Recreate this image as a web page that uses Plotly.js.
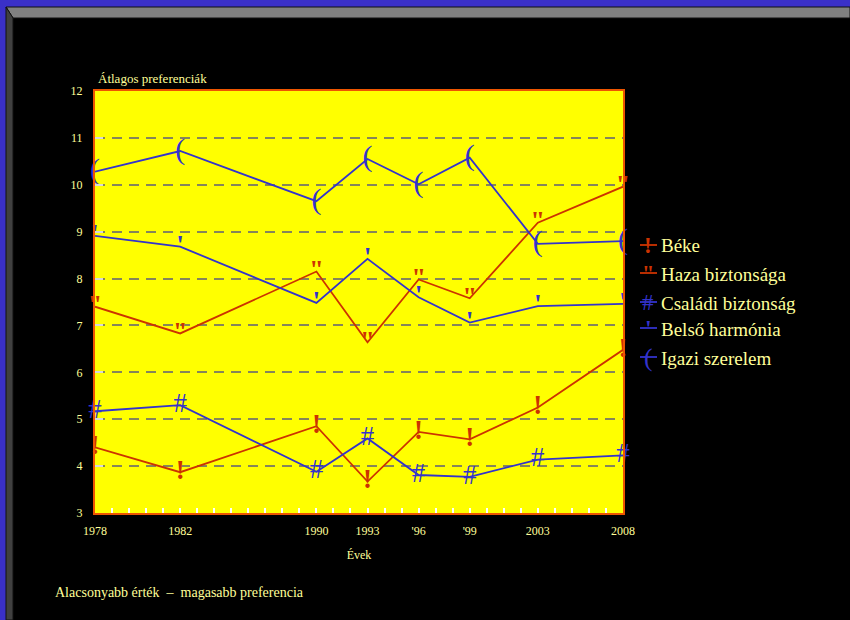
<!DOCTYPE html>
<html><head><meta charset="utf-8">
<script src="https://cdn.plot.ly/plotly-3.0.1.min.js"></script>
<style>html,body{margin:0;padding:0;background:#000;}#chart{width:850px;height:620px;}</style>
</head><body><div id="chart"></div>
<script>
// ---- data ----
const yearLabels = ['1978', '1982', '1990', '1993', "'96", "'99", '2003', '2008'];
const yearPositions = [0, 5, 13, 16, 19, 22, 26, 31];
const seriesNames = ['Béke', 'Haza biztonsága', 'Családi biztonság', 'Belső harmónia', 'Igazi szerelem'];
const beke = [4.40, 3.87, 4.85, 3.67, 4.73, 4.57, 5.25, 6.48];
const hazaBiztonsaga = [7.40, 6.83, 8.15, 6.64, 7.98, 7.58, 9.19, 9.96];
const csaladiBiztonsag = [5.17, 5.30, 3.88, 4.59, 3.81, 3.77, 4.14, 4.23];
const belsoHarmonia = [8.91, 8.68, 7.48, 8.42, 7.60, 7.06, 7.41, 7.46];
const igaziSzerelem = [10.28, 10.72, 9.65, 10.55, 10.01, 10.58, 8.74, 8.80];

// ---- styles ----
const seriesValues = [beke, hazaBiztonsaga, csaladiBiztonsag, belsoHarmonia, igaziSzerelem];
const glyphs = ['!', '"', '#', "'", '('];
const glyphSizes = [27, 26, 27, 28, 30];
const glyphWeights = ['bold', 'bold', 'normal', 'bold', 'normal'];
const colors = ['#CC3300', '#CC3300', '#3333CC', '#3333CC', '#3333CC'];
const SERIF = '"Liberation Serif", "Times New Roman", serif';
const TXT = '#FFFF99';

const W = 850, H = 620, L = 95, R = 623, T = 91, B = 513;
const px2x = p => (p - L) / (R - L);
const px2y = p => (B - p) / (B - T);

const traces = seriesValues.map((vals, i) => ({
  type: 'scatter',
  mode: 'lines+text',
  name: seriesNames[i],
  x: yearPositions,
  y: vals,
  text: vals.map(() => glyphs[i]),
  textposition: 'middle center',
  textfont: {family: SERIF, size: glyphSizes[i], color: colors[i], weight: glyphWeights[i]},
  line: {color: colors[i], width: 1.8},
  cliponaxis: false,
  showlegend: false,
  hoverinfo: 'x+y+name'
}));

// ---- frame shapes (slide border) ----
const shapes = [
  {type: 'path', xref: 'paper', yref: 'paper', layer: 'below', line: {width: 0}, fillcolor: '#3A30C8',
   path: `M ${px2x(0)} ${px2y(0)} L ${px2x(W)} ${px2y(0)} L ${px2x(W)} ${px2y(7)} L ${px2x(6)} ${px2y(7)} L ${px2x(6)} ${px2y(H)} L ${px2x(0)} ${px2y(H)} Z`},
  {type: 'path', xref: 'paper', yref: 'paper', layer: 'below', line: {color: '#111', width: 1}, fillcolor: '#808080',
   path: `M ${px2x(6)} ${px2y(7)} L ${px2x(W)} ${px2y(7)} L ${px2x(W)} ${px2y(18)} L ${px2x(13)} ${px2y(18)} Z`},
  {type: 'path', xref: 'paper', yref: 'paper', layer: 'below', line: {color: '#111', width: 1}, fillcolor: '#404040',
   path: `M ${px2x(6)} ${px2y(7)} L ${px2x(13)} ${px2y(18)} L ${px2x(13)} ${px2y(H)} L ${px2x(6)} ${px2y(H)} Z`}
];

// ---- legend (hand-built) ----
const legendRows = [245, 273, 302, 328, 357];
const annotations = [];
seriesNames.forEach((n, i) => {
  const py = legendRows[i];
  shapes.push({type: 'line', xref: 'paper', yref: 'paper', x0: px2x(640), x1: px2x(657), y0: px2y(py), y1: px2y(py),
    line: {color: colors[i], width: 1.8}});
  annotations.push({xref: 'paper', yref: 'paper', x: px2x(648), y: px2y(py), text: glyphs[i], showarrow: false,
    xanchor: 'center', yanchor: 'middle', font: {family: SERIF, size: glyphSizes[i] * 0.85, color: colors[i], weight: glyphWeights[i]}});
  annotations.push({xref: 'paper', yref: 'paper', x: px2x(659), y: px2y(py + 1), text: n, showarrow: false,
    xanchor: 'left', yanchor: 'middle', font: {family: SERIF, size: 19, color: TXT}});
});
annotations.push({xref: 'paper', yref: 'paper', x: px2x(96), y: px2y(78), text: 'Átlagos preferenciák', showarrow: false,
  xanchor: 'left', yanchor: 'middle', font: {family: SERIF, size: 13, color: TXT}});
annotations.push({xref: 'paper', yref: 'paper', x: px2x(53), y: px2y(592), text: 'Alacsonyabb érték  –  magasabb preferencia', showarrow: false,
  xanchor: 'left', yanchor: 'middle', font: {family: SERIF, size: 14, color: TXT}});

const BORDER = '#EE5500';
const layout = {
  width: W, height: H,
  margin: {l: L, r: W - R, t: T, b: H - B, pad: 0},
  paper_bgcolor: '#000000',
  plot_bgcolor: '#FFFF00',
  showlegend: false,
  font: {family: SERIF, color: TXT},
  xaxis: {
    range: [0, 31], tickmode: 'array', tickvals: yearPositions, ticktext: yearLabels,
    ticks: 'inside', ticklen: 5, tickwidth: 2, tickcolor: '#FFFFFF',
    minor: {ticks: 'inside', dtick: 1, tick0: 0, ticklen: 5, tickwidth: 2, tickcolor: '#FFFFFF', showgrid: false},
    showgrid: false, zeroline: false,
    showline: true, mirror: true, linecolor: BORDER, linewidth: 2,
    tickfont: {family: SERIF, size: 12, color: TXT}, ticklabelstandoff: 6,
    title: {text: 'Évek', font: {family: SERIF, size: 12, color: TXT}, standoff: 13}
  },
  yaxis: {
    range: [3, 12], tickmode: 'linear', tick0: 3, dtick: 1,
    ticks: 'inside', ticklen: 8, tickwidth: 2, tickcolor: '#D8D8D8',
    showgrid: true, gridcolor: '#85855A', gridwidth: 2, griddash: '10px,7px',
    zeroline: false, showline: true, mirror: true, linecolor: BORDER, linewidth: 2,
    tickfont: {family: SERIF, size: 12, color: TXT}, ticklabelstandoff: 8
  },
  shapes: shapes,
  annotations: annotations
};

Plotly.newPlot('chart', traces, layout, {staticPlot: true, displayModeBar: false});
</script>
</body></html>
